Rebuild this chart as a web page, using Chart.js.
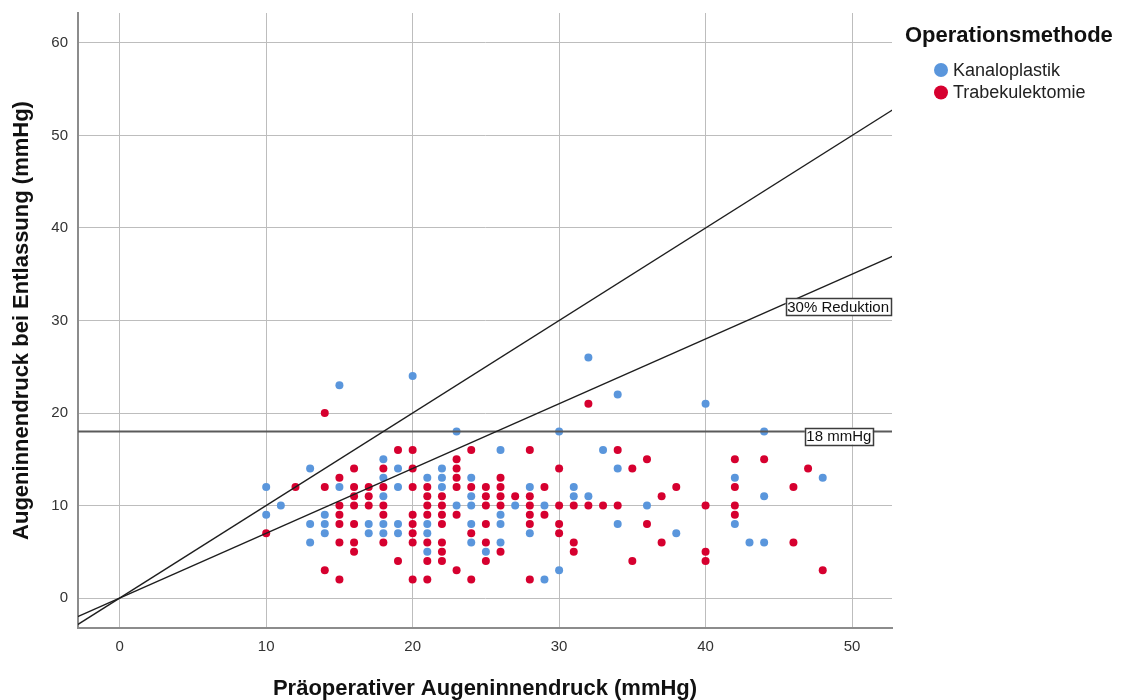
<!DOCTYPE html>
<html lang="de">
<head>
<meta charset="utf-8">
<title>Augeninnendruck prä- und postoperativ</title>
<script src="https://cdn.jsdelivr.net/npm/chart.js@4/dist/chart.umd.min.js"></script>
<style>
  html, body { margin: 0; padding: 0; background: #ffffff; }
  #wrap { position: relative; width: 1124px; height: 700px; }
  canvas { display: block; }
</style>
</head>
<body>
<div id="wrap"><canvas id="chart" width="1124" height="700"></canvas></div>
<script>
// Kanaloplastik: preoperative IOP (x) and IOP at discharge (y), mmHg
const kanaloX = [10,10,11,13,13,13,14,14,14,15,15,17,17,18,18,18,18,18,19,19,19,19,20,21,21,21,21,22,22,22,23,23,24,24,24,24,24,25,26,26,26,26,27,28,28,29,29,30,30,31,31,32,32,33,34,34,34,36,38,40,42,42,43,44,44,44,48];
const kanaloY = [12, 9,10,14, 8, 6, 9, 8, 7,12,23, 8, 7,15,13,11, 8, 7,14,12, 8, 7,24,13, 8, 7, 5,14,13,12,18,10,13,11,10, 8, 6, 5,16, 9, 8, 6,10,12, 7,10, 2,18, 3,12,11,11,26,16,14, 8,22,10, 7,21,13, 8, 6,18,11, 6,13];

// Trabekulektomie
const trabX = [10,12,14,14,14,15,15,15,15,15,15,16,16,16,16,16,16,16,17,17,17,18,18,18,18,18,19,19,20,20,20,20,20,20,20,20,21,21,21,21,21,21,21,22,22,22,22,22,22,22,23,23,23,23,23,23,24,24,24,24,25,25,25,25,25,25,26,26,26,26,26,27,28,28,28,28,28,28,29,29,30,30,30,30,31,31,31,32,32,33,34,34,35,35,36,36,37,37,38,40,40,40,42,42,42,42,44,46,46,47,48];
const trabY = [ 7,12,12, 3,20,13,10, 9, 8, 6, 2,14,12,11,10, 8, 6, 5,12,11,10,14,12,10, 9, 6,16, 4,16,14,12, 9, 8, 7, 6, 2,12,11,10, 9, 6, 4, 2,11,10, 9, 8, 6, 5, 4,15,14,13,12, 9, 3,16,12, 7, 2,12,11,10, 8, 6, 4,13,12,11,10, 5,11,16,11,10, 9, 8, 2,12, 9,14,10, 8, 7,10, 6, 5,10,21,10,16,10,14, 4,15, 8,11, 6,12,10, 5, 4,15,12,10, 9,15,12, 6,14, 3];

// Reference lines: y = slope * x through the origin, plus a fixed threshold
const refSlopes = [1, 0.7];
const thresholdValue = 18;
const lineLabels = ['30% Reduktion', '18 mmHg'];
const lineLabelAnchors = [{x: 49.05, y: 31.5}, {x: 49.1, y: 17.5}];

// Axis ranges and tick step
const xRange = [-2.85, 52.73];
const yRange = [-3.24, 63.24];
const tickStep = 10;

const legendTitle = 'Operationsmethode';
const seriesNames = ['Kanaloplastik', 'Trabekulektomie'];
const seriesColors = ['#5a96dc', '#d6002f'];

const toPoints = (xs, ys) => xs.map((x, i) => ({x: x, y: ys[i]}));
const linePoints = (slope) => [
  {x: xRange[0] - 1, y: slope * (xRange[0] - 1)},
  {x: xRange[1] + 1, y: slope * (xRange[1] + 1)}
];

const FONT = "'Liberation Sans', Arial, sans-serif";

// Boxed labels on the reference lines
const lineLabelPlugin = {
  id: 'lineLabels',
  afterDatasetsDraw(chart) {
    const ctx = chart.ctx;
    const xs = chart.scales.x, ys = chart.scales.y;
    ctx.save();
    ctx.font = '15px ' + FONT;
    ctx.textAlign = 'center';
    ctx.textBaseline = 'middle';
    lineLabels.forEach((txt, i) => {
      const cx = xs.getPixelForValue(lineLabelAnchors[i].x);
      const cy = ys.getPixelForValue(lineLabelAnchors[i].y);
      const w = ctx.measureText(txt).width + 3;
      const h = 17;
      ctx.fillStyle = '#ffffff';
      ctx.fillRect(cx - w / 2, cy - h / 2, w, h);
      ctx.strokeStyle = '#3c3c3c';
      ctx.lineWidth = 1.5;
      ctx.strokeRect(Math.round(cx - w / 2) + 0.5, Math.round(cy - h / 2) + 0.5, Math.round(w), h);
      ctx.fillStyle = '#111111';
      ctx.fillText(txt, cx, cy + 1);
    });
    ctx.restore();
  }
};

// Legend with title to the right of the plot
const sideLegendPlugin = {
  id: 'sideLegend',
  afterDraw(chart) {
    const ctx = chart.ctx;
    ctx.save();
    ctx.fillStyle = '#111111';
    ctx.font = 'bold 22px ' + FONT;
    ctx.textAlign = 'left';
    ctx.textBaseline = 'middle';
    ctx.fillText(legendTitle, 905, 36);
    ctx.font = '18px ' + FONT;
    seriesNames.forEach((name, i) => {
      const y = 70 + i * 22.5;
      ctx.beginPath();
      ctx.arc(941, y, 7, 0, Math.PI * 2);
      ctx.fillStyle = seriesColors[i];
      ctx.fill();
      ctx.fillStyle = '#222222';
      ctx.fillText(name, 953, y + 1);
    });
    ctx.restore();
  }
};

const lineDatasets = refSlopes.map((s) => ({
  type: 'line',
  data: linePoints(s),
  borderColor: '#1e1e1e',
  borderWidth: 1.3,
  pointRadius: 0,
  fill: false,
  order: 0
}));
lineDatasets.push({
  type: 'line',
  data: [{x: xRange[0] - 1, y: thresholdValue}, {x: xRange[1] + 1, y: thresholdValue}],
  borderColor: '#5a5a5a',
  borderWidth: 2,
  pointRadius: 0,
  fill: false,
  order: 0
});

new Chart(document.getElementById('chart'), {
  type: 'scatter',
  data: {
    datasets: [
      ...lineDatasets,
      {
        label: seriesNames[1],
        data: toPoints(trabX, trabY),
        backgroundColor: seriesColors[1],
        borderColor: seriesColors[1],
        borderWidth: 0,
        pointRadius: 4,
        order: 1
      },
      {
        label: seriesNames[0],
        data: toPoints(kanaloX, kanaloY),
        backgroundColor: seriesColors[0],
        borderColor: seriesColors[0],
        borderWidth: 0,
        pointRadius: 4,
        order: 2
      }
    ]
  },
  options: {
    responsive: false,
    animation: false,
    events: [],
    layout: { padding: { top: 13, right: 232, left: 0, bottom: 0 } },
    plugins: {
      legend: { display: false },
      tooltip: { enabled: false }
    },
    scales: {
      x: {
        type: 'linear',
        min: xRange[0],
        max: xRange[1],
        afterFit(scale) {
          scale.height = 72;
          scale.paddingLeft = 0;
          scale.paddingRight = 0;
        },
        ticks: {
          stepSize: tickStep,
          includeBounds: false,
          padding: 10,
          color: '#333333',
          font: { family: FONT, size: 15 }
        },
        grid: { color: '#bdbdbd', lineWidth: 1, drawTicks: false },
        border: { color: '#8c8c8c', width: 2 },
        title: {
          display: true,
          text: 'Präoperativer Augeninnendruck (mmHg)',
          color: '#111111',
          font: { family: FONT, size: 22, weight: 'bold', lineHeight: 1 },
          padding: { top: 0, bottom: 0 }
        }
      },
      y: {
        type: 'linear',
        min: yRange[0],
        max: yRange[1],
        afterFit(scale) {
          scale.width = 78;
          scale.paddingTop = 0;
          scale.paddingBottom = 0;
        },
        ticks: {
          stepSize: tickStep,
          includeBounds: false,
          padding: 10,
          color: '#333333',
          font: { family: FONT, size: 15 }
        },
        grid: { color: '#bdbdbd', lineWidth: 1, drawTicks: false },
        border: { color: '#8c8c8c', width: 2 },
        title: {
          display: true,
          text: 'Augeninnendruck bei Entlassung (mmHg)',
          color: '#111111',
          font: { family: FONT, size: 22, weight: 'bold' },
          padding: { top: 9, bottom: 0 }
        }
      }
    }
  },
  plugins: [lineLabelPlugin, sideLegendPlugin]
});
</script>
</body>
</html>
